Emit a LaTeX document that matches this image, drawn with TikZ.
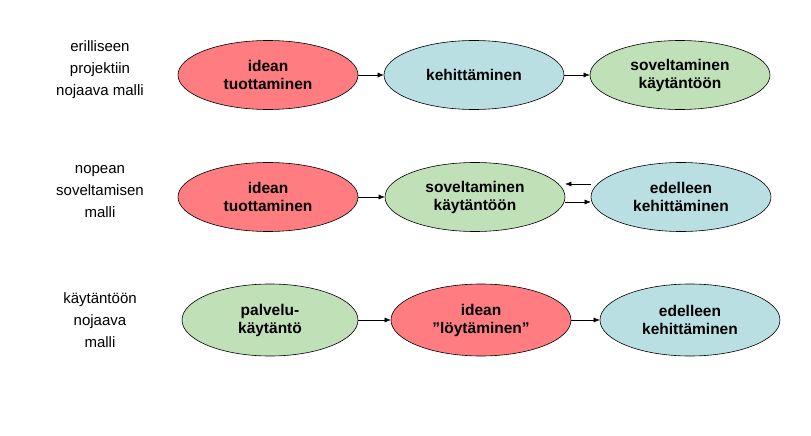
\documentclass[tikz,border=0pt]{standalone}
\usepackage{fontspec}
\setmainfont{Liberation Sans}
\usetikzlibrary{shapes.geometric,arrows.meta}
\definecolor{cred}{HTML}{FF7C80}
\definecolor{cblue}{HTML}{B9DFE3}
\definecolor{cgreen}{HTML}{C0E0B8}
\begin{document}
\begin{tikzpicture}[x=1pt,y=-1pt,
  ell/.style={ellipse,draw=black,line width=0.6pt,minimum width=180pt,minimum height=69pt,inner sep=0pt,align=center,font=\fontsize{15.5}{18}\selectfont\bfseries},
  lbl/.style={align=center,font=\fontsize{15}{22}\selectfont},
  arr/.style={-{Latex[length=6pt,width=5pt]},line width=0.5pt}]
\useasboundingbox (0,0) rectangle (811,436);
\node[lbl] (l1) at (100,70) {erilliseen\\projektiin\\nojaava malli};
\node[lbl] (l2) at (100,192) {nopean\\soveltamisen\\malli};
\node[lbl] (l3) at (100,320) {käytäntöön\\nojaava\\malli};
\node[ell,fill=cred] (a1) at (268,75) {idean\\tuottaminen};
\node[ell,fill=cblue] (b1) at (474,75) {kehittäminen};
\node[ell,fill=cgreen] (c1) at (680,75) {soveltaminen\\käytäntöön};
\node[ell,fill=cred] (a2) at (268,197) {idean\\tuottaminen};
\node[ell,fill=cgreen] (b2) at (475,197) {soveltaminen\\käytäntöön};
\node[ell,fill=cblue] (c2) at (681,197) {edelleen\\kehittäminen};
\node[ell,fill=cgreen,minimum width=176pt,minimum height=72pt] (a3) at (270,320) {palvelu-\\käytäntö};
\node[ell,fill=cred,minimum height=72pt] (b3) at (481,320) {idean\\”löytäminen”};
\node[ell,fill=cblue,minimum height=72pt] (c3) at (690,320) {edelleen\\kehittäminen};
\draw[arr] (a1) -- (b1);
\draw[arr] (b1) -- (c1);
\draw[arr] (a2) -- (b2);
\draw[arr] ([yshift=-5pt]b2.east) -- ([yshift=-5pt]c2.west);
\draw[arr] ([yshift=13pt]c2.west) -- ([yshift=13pt]b2.east);
\draw[arr] (a3) -- (b3);
\draw[arr] (b3) -- (c3);
\end{tikzpicture}
\end{document}
